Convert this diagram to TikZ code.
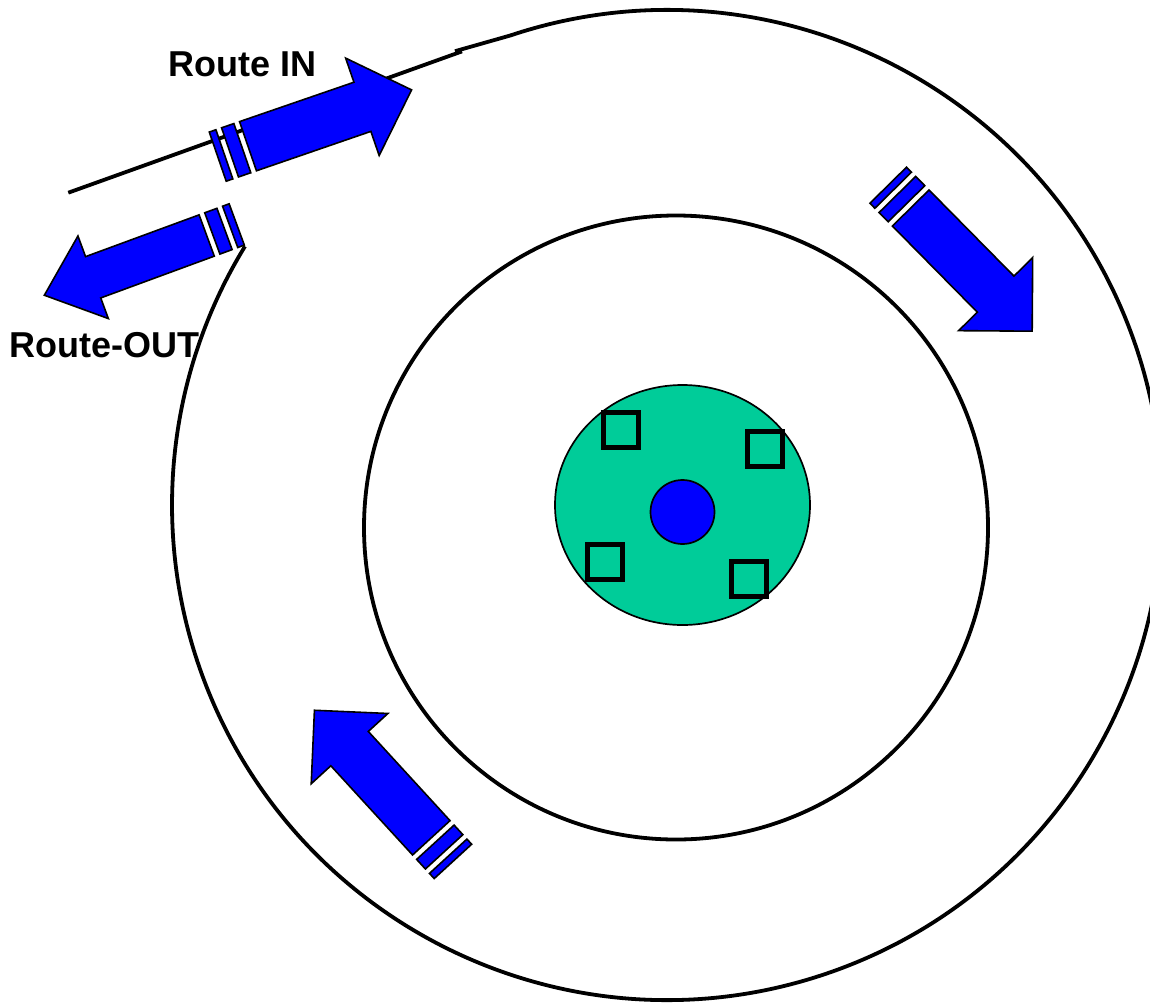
\documentclass[tikz,border=0pt]{standalone}
\usepackage{fontspec}
\setmainfont{Liberation Sans}
\usepackage{tikz}
\usetikzlibrary{positioning}

\definecolor{arrowblue}{RGB}{0,0,255}
\definecolor{cellgreen}{RGB}{0,204,153}

\tikzset{
  ring/.style={black,line width=3.8pt},
  blockarrow/.style={fill=arrowblue,draw=black,line width=1.6pt,line join=miter},
  marker/.style={draw=black,line width=5pt},
  routelabel/.style={inner sep=0pt,anchor=base west,font=\fontsize{36}{40}\selectfont\bfseries}
}

% tail point, angle, half shaft width, half head width
\newcommand{\stripedarrow}[4]{
  \begin{scope}[shift={#1},rotate=#2]
    \draw [blockarrow] (0,-#3) -- (121,-#3) -- (121,-#4) -- (173,0) -- (121,#4) -- (121,#3) -- (0,#3) -- cycle;
    \draw [blockarrow] (-6,-#3) rectangle (-19,#3);
    \draw [blockarrow] (-25,-#3) rectangle (-32,#3);
  \end{scope}
}

\begin{document}
\begin{tikzpicture}[x=1pt,y=-1pt]
\useasboundingbox (0,0) rectangle (1150,1004);
\clip (0,0) rectangle (1150,1004);
\coordinate (outer) at (667,505);
\coordinate (inner) at (676,527.5);
\coordinate (nucleus) at (682.5,505);
\coordinate (core) at (682.5,512);
\draw [ring] (68.3,192.7) -- (462,51.4);
\draw [ring] (455,51.2) -- ([shift={(-108.5:495)}]outer) arc [start angle=-108.5,end angle=211.5,radius=495];
\draw [ring] (inner) circle [radius=312];
\draw [fill=cellgreen,line width=1.7pt] (nucleus) ellipse [x radius=127.5,y radius=120];
\draw [fill=arrowblue,line width=1.7pt] (core) circle [radius=32];
\draw [marker] (603,412.8) rectangle (638,447.8);
\draw [marker] (747.2,431.2) rectangle (782.2,466.2);
\draw [marker] (587,544.8) rectangle (622,579.8);
\draw [marker] (731.2,561) rectangle (766.2,596);
\stripedarrow{(248,146.2)}{19}{26}{51.5}
\stripedarrow{(206.7,235.5)}{200.2}{22}{44}
\stripedarrow{(910.7,208)}{-45.4}{25.7}{52}
\stripedarrow{(431.3,837.8)}{132.5}{25.4}{52}
\node [routelabel] (routein) at (168.3,76.7) {Route IN};
\node [routelabel] (routeout) at (9.3,357.3) {Route-OUT};
\end{tikzpicture}
\end{document}
